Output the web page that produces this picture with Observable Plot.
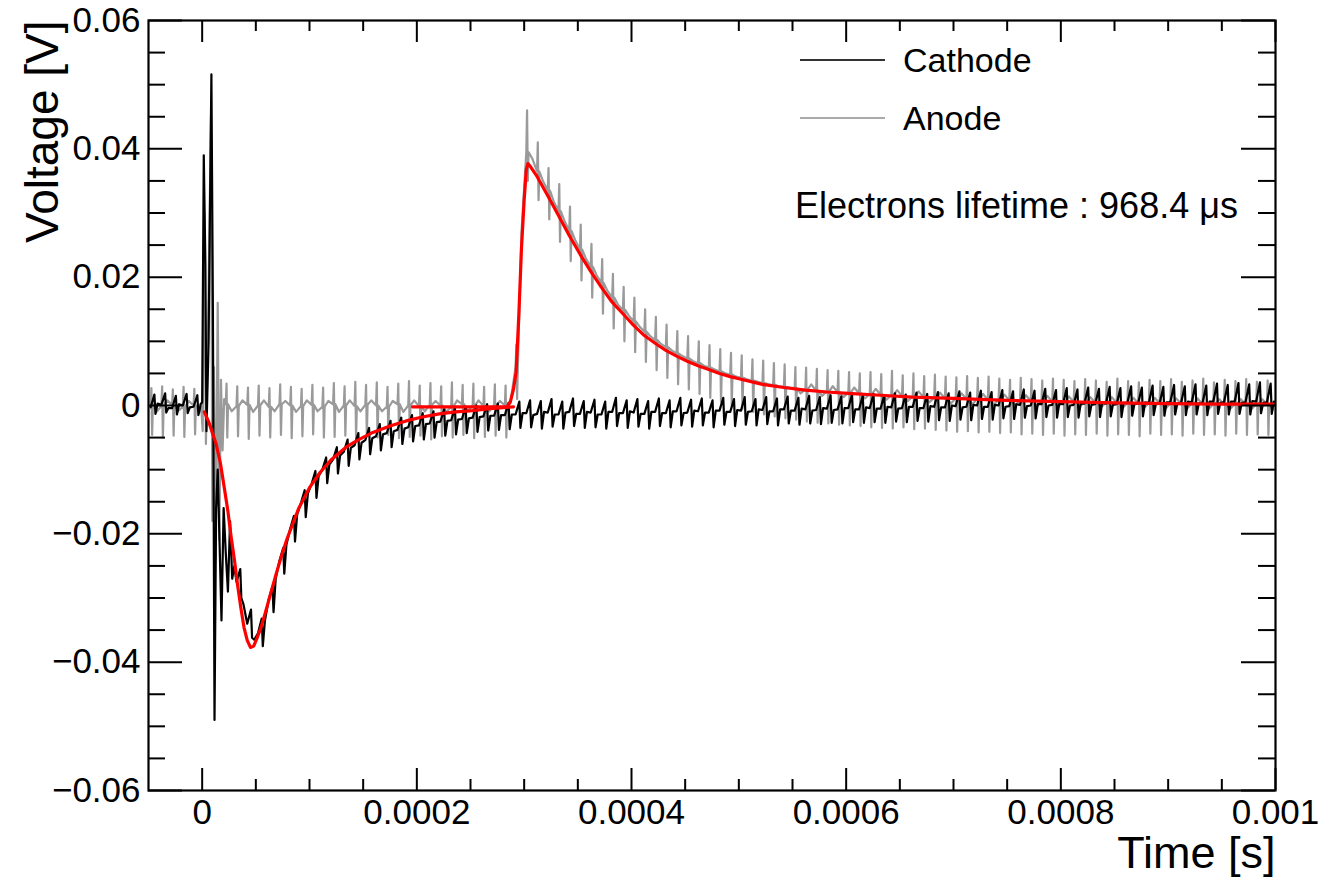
<!DOCTYPE html>
<html>
<head>
<meta charset="utf-8">
<script src="https://cdn.jsdelivr.net/npm/d3@7"></script>
<script src="https://cdn.jsdelivr.net/npm/@observablehq/plot@0.6"></script>
<style>
  html, body { margin: 0; padding: 0; background: white; }
  #chart { position: relative; width: 1334px; height: 878px; }
</style>
</head>
<body>
<div id="chart"></div>
<script>
// ---------- axis ticks & labels (time in microseconds, voltage in volts) ----------
const xMajor = [0, 200, 400, 600, 800, 1000];
const xTickLabels = ["0", "0.0002", "0.0004", "0.0006", "0.0008", "0.001"];
const xMinor = [50, 100, 150, 250, 300, 350, 450, 500, 550, 650, 700, 750, 850, 900, 950];
const yMajor = [-0.06, -0.04, -0.02, 0, 0.02, 0.04, 0.06];
const yTickLabels = ["\u22120.06", "\u22120.04", "\u22120.02", "0", "0.02", "0.04", "0.06"];
const yMinor = [-0.055, -0.05, -0.045, -0.035, -0.03, -0.025, -0.015, -0.01, -0.005,
                0.005, 0.01, 0.015, 0.025, 0.03, 0.035, 0.045, 0.05, 0.055];

// ---------- sampled traces: one entry per 10 us noise period (start times -48 ... 992 us) ----------
const periodStart = d3.range(-48, 1000, 10);

const anodeBase = [
  0.0002,-0.0001,0.0001,-0.0002,0.0000,null,null,0.0002,-0.0001,0.0001,
  0.0000,-0.0002,0.0002,0.0000,-0.0001,0.0001,-0.0002,0.0002,0.0000,-0.0001,
  0.0001,0.0000,-0.0002,0.0002,0.0000,-0.0001,0.0001,0.0000,-0.0002,0.0002,
  0.0000,-0.0001,0.0001,0.0000,0.0060,0.0395,0.0365,0.0335,0.0303,0.0272,
  0.0243,0.0216,0.0191,0.0168,0.0149,0.0131,0.0115,0.0102,0.0091,0.0081,
  0.0073,0.0066,0.0059,0.0053,0.0048,0.0043,0.0039,0.0035,0.0032,0.0029,
  0.0027,0.0025,0.0023,0.0022,0.0021,0.0020,0.0019,0.0018,0.0017,0.0016,
  0.0015,0.0014,0.0013,0.0012,0.0011,0.0011,0.0010,0.0010,0.0009,0.0009,
  0.0008,0.0008,0.0007,0.0007,0.0006,0.0006,0.0006,0.0005,0.0005,0.0005,
  0.0004,0.0004,0.0004,0.0004,0.0003,0.0003,0.0003,0.0003,0.0002,0.0002,
  0.0002,0.0002,0.0002,0.0002,0.0002];
const anodeMid = [
  -0.0010,0.0008,-0.0009,0.0007,-0.0010,null,null,-0.0009,0.0008,-0.0010,
  0.0008,-0.0009,0.0007,-0.0010,0.0008,-0.0009,0.0007,-0.0010,0.0008,-0.0009,
  0.0008,-0.0009,0.0007,-0.0010,0.0008,-0.0009,0.0007,-0.0010,0.0008,-0.0009,
  0.0008,-0.0009,0.0007,0.0008,0.0270,0.0385,0.0350,0.0318,0.0288,0.0258,
  0.0229,0.0203,0.0179,0.0157,0.0140,0.0123,0.0108,0.0096,0.0086,0.0077,
  0.0069,0.0062,0.0056,0.0050,0.0045,0.0041,0.0037,0.0033,0.0030,0.0028,
  0.0019,0.0033,0.0015,0.0030,0.0013,0.0028,0.0011,0.0026,0.0009,0.0024,
  0.0007,0.0022,0.0005,0.0020,0.0003,0.0019,0.0002,0.0018,0.0001,0.0017,
  0.0000,0.0016,-0.0001,0.0015,-0.0002,0.0014,-0.0002,0.0013,-0.0003,0.0013,
  -0.0004,0.0012,-0.0004,0.0012,-0.0005,0.0011,-0.0005,0.0011,-0.0006,0.0010,
  -0.0006,0.0010,-0.0006,0.0010,-0.0006];
const anodeHi = [
  0.0027,0.0030,0.0025,0.0029,0.0026,null,null,0.0034,0.0030,0.0028,
  0.0031,0.0027,0.0033,0.0029,0.0026,0.0032,0.0028,0.0035,0.0030,0.0037,
  0.0032,0.0036,0.0029,0.0034,0.0038,0.0031,0.0035,0.0030,0.0036,0.0032,
  0.0034,0.0029,0.0033,0.0031,0.0095,0.0460,0.0410,0.0370,0.0345,0.0310,
  0.0282,0.0252,0.0228,0.0205,0.0185,0.0168,0.0150,0.0138,0.0126,0.0116,
  0.0108,0.0100,0.0094,0.0088,0.0082,0.0078,0.0072,0.0070,0.0066,0.0064,
  0.0060,0.0059,0.0057,0.0055,0.0054,0.0052,0.0050,0.0052,0.0049,0.0054,
  0.0047,0.0050,0.0046,0.0048,0.0045,0.0044,0.0046,0.0043,0.0045,0.0042,
  0.0040,0.0043,0.0041,0.0039,0.0042,0.0040,0.0038,0.0041,0.0039,0.0037,
  0.0042,0.0038,0.0036,0.0040,0.0038,0.0041,0.0037,0.0039,0.0042,0.0036,
  0.0040,0.0038,0.0041,0.0037,0.0039];
const anodeLo = [
  -0.0046,-0.0050,-0.0047,-0.0049,-0.0045,null,null,-0.0050,-0.0048,-0.0052,
  -0.0047,-0.0050,-0.0046,-0.0051,-0.0048,-0.0045,-0.0050,-0.0049,-0.0047,-0.0052,
  -0.0048,-0.0050,-0.0046,-0.0051,-0.0049,-0.0047,-0.0053,-0.0048,-0.0050,-0.0046,
  -0.0051,-0.0049,-0.0047,-0.0050,0.0010,0.0350,0.0320,0.0290,0.0255,0.0225,
  0.0195,0.0168,0.0143,0.0120,0.0100,0.0083,0.0068,0.0055,0.0043,0.0033,
  0.0025,0.0018,0.0012,0.0005,0.0000,-0.0005,-0.0010,-0.0014,-0.0017,-0.0020,
  -0.0022,-0.0025,-0.0027,-0.0028,-0.0030,-0.0031,-0.0032,-0.0034,-0.0035,-0.0036,
  -0.0034,-0.0037,-0.0036,-0.0038,-0.0039,-0.0041,-0.0040,-0.0042,-0.0041,-0.0043,
  -0.0042,-0.0045,-0.0044,-0.0046,-0.0044,-0.0047,-0.0045,-0.0046,-0.0044,-0.0047,
  -0.0045,-0.0046,-0.0048,-0.0044,-0.0046,-0.0045,-0.0047,-0.0044,-0.0046,-0.0045,
  -0.0047,-0.0044,-0.0046,-0.0045,-0.0046];

const cathodeBase = [
  -0.0003,0.0001,-0.0004,0.0000,-0.0002,null,null,null,-0.0275,-0.0340,
  -0.0355,-0.0302,-0.0242,-0.0192,-0.0152,-0.0122,-0.0100,-0.0084,-0.0072,-0.0062,
  -0.0054,-0.0048,-0.0043,-0.0038,-0.0034,-0.0031,-0.0028,-0.0025,-0.0023,-0.0021,
  -0.0019,-0.0017,-0.0016,-0.0015,-0.0014,-0.0012,-0.0013,-0.0011,-0.0014,-0.0010,
  -0.0013,-0.0011,-0.0014,-0.0010,-0.0012,-0.0011,-0.0013,-0.0010,-0.0012,-0.0009,
  -0.0011,-0.0009,-0.0011,-0.0008,-0.0010,-0.0008,-0.0009,-0.0007,-0.0009,-0.0006,
  -0.0008,-0.0006,-0.0007,-0.0005,-0.0006,-0.0004,-0.0006,-0.0004,-0.0005,-0.0003,
  -0.0004,-0.0002,-0.0004,-0.0002,-0.0003,-0.0001,-0.0002,0.0000,-0.0002,0.0000,
  -0.0001,0.0001,0.0000,0.0002,0.0001,0.0002,0.0001,0.0003,0.0002,0.0003,
  0.0002,0.0004,0.0003,0.0004,0.0003,0.0005,0.0004,0.0005,0.0004,0.0006,
  0.0005,0.0006,0.0005,0.0006,0.0005];
const cathodeMid = [
  0.0003,-0.0004,0.0002,-0.0003,0.0002,null,null,null,-0.0310,-0.0365,
  -0.0335,-0.0270,-0.0217,-0.0170,-0.0137,-0.0110,-0.0092,-0.0078,-0.0066,-0.0058,
  -0.0051,-0.0045,-0.0040,-0.0036,-0.0032,-0.0029,-0.0026,-0.0024,-0.0022,-0.0020,
  -0.0018,-0.0016,-0.0015,-0.0014,-0.0012,-0.0015,-0.0010,-0.0014,-0.0011,-0.0013,
  -0.0010,-0.0014,-0.0010,-0.0012,-0.0009,-0.0013,-0.0010,-0.0012,-0.0009,-0.0012,
  -0.0008,-0.0011,-0.0008,-0.0010,-0.0007,-0.0010,-0.0006,-0.0009,-0.0006,-0.0008,
  -0.0005,-0.0008,-0.0004,-0.0007,-0.0004,-0.0006,-0.0003,-0.0005,-0.0002,-0.0005,
  -0.0002,-0.0004,-0.0001,-0.0003,0.0000,-0.0003,0.0001,-0.0002,0.0001,-0.0002,
  0.0002,-0.0001,0.0002,0.0000,0.0003,0.0000,0.0003,0.0001,0.0004,0.0001,
  0.0004,0.0002,0.0005,0.0002,0.0005,0.0003,0.0006,0.0003,0.0006,0.0004,
  0.0006,0.0004,0.0007,0.0004,0.0006];
const cathodeHi = [
  0.0017,0.0019,0.0015,0.0018,0.0016,null,null,null,-0.0255,-0.0318,
  -0.0332,-0.0282,-0.0222,-0.0172,-0.0132,-0.0102,-0.0081,-0.0065,-0.0053,-0.0043,
  -0.0035,-0.0029,-0.0024,-0.0019,-0.0015,-0.0012,-0.0009,-0.0006,-0.0004,-0.0002,
  0.0000,0.0002,0.0003,0.0004,0.0006,0.0008,0.0007,0.0010,0.0006,0.0011,
  0.0007,0.0009,0.0006,0.0012,0.0008,0.0010,0.0007,0.0011,0.0008,0.0012,
  0.0009,0.0011,0.0008,0.0012,0.0010,0.0013,0.0010,0.0013,0.0011,0.0014,
  0.0012,0.0015,0.0013,0.0016,0.0014,0.0017,0.0015,0.0018,0.0016,0.0019,
  0.0017,0.0020,0.0018,0.0021,0.0019,0.0022,0.0020,0.0023,0.0021,0.0024,
  0.0022,0.0025,0.0023,0.0026,0.0024,0.0027,0.0025,0.0028,0.0026,0.0029,
  0.0027,0.0030,0.0028,0.0031,0.0029,0.0032,0.0030,0.0033,0.0031,0.0034,
  0.0032,0.0035,0.0033,0.0036,0.0034];
const cathodeLo = [
  -0.0013,-0.0011,-0.0014,-0.0012,-0.0015,null,null,null,-0.0300,-0.0362,
  -0.0375,-0.0322,-0.0262,-0.0212,-0.0174,-0.0144,-0.0121,-0.0106,-0.0094,-0.0084,
  -0.0076,-0.0070,-0.0065,-0.0060,-0.0056,-0.0053,-0.0050,-0.0047,-0.0045,-0.0043,
  -0.0041,-0.0039,-0.0038,-0.0037,-0.0035,-0.0034,-0.0036,-0.0033,-0.0036,-0.0032,
  -0.0035,-0.0034,-0.0036,-0.0032,-0.0035,-0.0033,-0.0036,-0.0032,-0.0034,-0.0031,
  -0.0033,-0.0031,-0.0034,-0.0030,-0.0032,-0.0030,-0.0031,-0.0029,-0.0031,-0.0028,
  -0.0030,-0.0028,-0.0029,-0.0027,-0.0028,-0.0026,-0.0027,-0.0026,-0.0027,-0.0025,
  -0.0026,-0.0024,-0.0025,-0.0023,-0.0024,-0.0022,-0.0023,-0.0021,-0.0022,-0.0020,
  -0.0021,-0.0019,-0.0020,-0.0018,-0.0019,-0.0018,-0.0019,-0.0017,-0.0018,-0.0017,
  -0.0018,-0.0016,-0.0017,-0.0015,-0.0016,-0.0014,-0.0015,-0.0014,-0.0015,-0.0013,
  -0.0014,-0.0013,-0.0014,-0.0012,-0.0013];

// ---------- trigger burst (0 - 30 us) ----------
const cathodeBurstT = [-2, 0, 1.5, 3, 4, 6, 8.6, 10, 11.5, 13, 14.5, 16, 18, 20, 22, 24, 26, 28, 30];
const cathodeBurstV = [-0.0004, 0.0005, 0.039, 0.022, -0.004, 0.010, 0.0516, 0.015, -0.049, -0.016,
                       -0.010, -0.020, -0.0335, -0.016, -0.023, -0.029, -0.018, -0.027, -0.025];
const anodeBurstT = [-1, 0.5, 2, 3.5, 5.5, 8.2, 9.5, 11, 12.5, 14.5, 16, 17.5, 19, 20.5];
const anodeBurstV = [0.0001, -0.004, 0.030, -0.006, 0.012, 0.045, -0.018, 0.006, -0.024, 0.016,
                     -0.021, 0.004, -0.007, 0.001];

// ---------- fitted curves ----------
const cathodeFitT = [2, 6, 10, 13, 17, 20.5, 24, 27, 30, 33, 36, 39, 42, 45, 48, 51, 55, 59, 64, 69,
                     74, 79, 85, 90, 100, 110, 120, 134, 145, 159, 175, 190, 205, 221, 236, 252, 268, 283, 290];
const cathodeFitV = [-0.0010, -0.0025, -0.0045, -0.0060, -0.0090, -0.0127, -0.0165, -0.0205, -0.0240,
                     -0.0280, -0.0315, -0.0346, -0.0366, -0.0377, -0.0375, -0.0363, -0.0345, -0.0322,
                     -0.0292, -0.0262, -0.0234, -0.0208, -0.0182, -0.0160, -0.0128, -0.0104, -0.0085,
                     -0.0065, -0.0054, -0.0042, -0.0032, -0.0024, -0.0018, -0.0013, -0.0010, -0.0008,
                     -0.0005, -0.0003, -0.0002];
const anodeFitT = [196, 284, 287, 290, 292.5, 295, 297.5, 300, 302, 303.5, 306, 312, 322, 332, 342, 352,
                   362, 372, 382, 392, 402, 412, 422, 432, 442, 452, 462, 472, 482, 492, 502, 522, 542,
                   562, 582, 602, 632, 662, 700, 750, 800, 850, 900, 950, 1000];
const anodeFitV = [-0.0002, -0.0002, 0.0005, 0.0025, 0.0052, 0.0140, 0.0245, 0.0320, 0.0368, 0.0377,
                   0.0372, 0.0357, 0.0327, 0.0296, 0.0265, 0.0236, 0.0209, 0.0184, 0.0161, 0.0143,
                   0.0125, 0.0109, 0.0097, 0.0086, 0.0077, 0.0069, 0.0062, 0.0056, 0.0050, 0.0045,
                   0.0041, 0.0033, 0.0028, 0.0024, 0.0021, 0.0019, 0.0016, 0.0013, 0.0011, 0.0008,
                   0.0006, 0.0004, 0.0003, 0.0002, 0.0002];

// ---------- build tables ----------
const anodeRows = [];
periodStart.forEach((t0, k) => {
  if (anodeBase[k] == null) return;
  anodeRows.push({t: t0, v: anodeBase[k]}, {t: t0 + 0.7, v: anodeHi[k]},
                 {t: t0 + 1.4, v: anodeLo[k]}, {t: t0 + 2.1, v: anodeBase[k]},
                 {t: t0 + 5.5, v: anodeMid[k]});
});
anodeBurstT.forEach((t, i) => anodeRows.push({t, v: anodeBurstV[i]}));
anodeRows.sort((a, b) => a.t - b.t);

const cathodeRows = [];
periodStart.forEach((t0, k) => {
  if (cathodeBase[k] == null) return;
  cathodeRows.push({t: t0, v: cathodeBase[k]}, {t: t0 + 3.5, v: cathodeHi[k]},
                   {t: t0 + 4.5, v: cathodeLo[k]}, {t: t0 + 6.5, v: cathodeMid[k]});
});
cathodeBurstT.forEach((t, i) => cathodeRows.push({t, v: cathodeBurstV[i]}));
cathodeRows.sort((a, b) => a.t - b.t);

const cathodeFit = cathodeFitT.map((t, i) => ({t, v: cathodeFitV[i]}));
const anodeFit = anodeFitT.map((t, i) => ({t, v: anodeFitV[i]}));

// ---------- plot ----------
const W = 1334, H = 878, mL = 148, mR = 59, mT = 20, mB = 88;
const fw = W - mL - mR, fh = H - mT - mB;
const FONT = "'Liberation Sans', Arial, Helvetica, sans-serif";

const chart = Plot.plot({
  width: W, height: H,
  marginLeft: mL, marginRight: mR, marginTop: mT, marginBottom: mB,
  style: {fontFamily: FONT, background: "white", color: "black", overflow: "visible"},
  x: {domain: [-50, 1000], axis: null},
  y: {domain: [-0.06, 0.06], axis: null},
  marks: [
    Plot.line(anodeRows, {x: "t", y: "v", stroke: "#9a9a9a", strokeWidth: 2.2, clip: true}),
    Plot.line(cathodeRows, {x: "t", y: "v", stroke: "#000", strokeWidth: 2.2, clip: true}),
    Plot.line(cathodeFit, {x: "t", y: "v", stroke: "#ff0000", strokeWidth: 3.2, clip: true}),
    Plot.line(anodeFit, {x: "t", y: "v", stroke: "#ff0000", strokeWidth: 3.2, clip: true}),
    // ticks (inside, on all four sides)
    Plot.ruleX(xMajor, {insetTop: fh - 22, stroke: "#000", strokeWidth: 2}),
    Plot.ruleX(xMinor, {insetTop: fh - 11, stroke: "#000", strokeWidth: 2}),
    Plot.ruleX(xMajor, {insetBottom: fh - 22, stroke: "#000", strokeWidth: 2}),
    Plot.ruleX(xMinor, {insetBottom: fh - 11, stroke: "#000", strokeWidth: 2}),
    Plot.ruleY(yMajor, {insetRight: fw - 34, stroke: "#000", strokeWidth: 2}),
    Plot.ruleY(yMinor, {insetRight: fw - 17, stroke: "#000", strokeWidth: 2}),
    Plot.ruleY(yMajor, {insetLeft: fw - 34, stroke: "#000", strokeWidth: 2}),
    Plot.ruleY(yMinor, {insetLeft: fw - 17, stroke: "#000", strokeWidth: 2}),
    Plot.frame({stroke: "#000", strokeWidth: 2.2}),
    // tick labels
    Plot.text(xMajor, {x: d => d, text: (d, i) => xTickLabels[i], frameAnchor: "bottom",
                       dy: 22, lineAnchor: "middle", fontSize: 35, fill: "#000"}),
    Plot.text(yMajor, {y: d => d, text: (d, i) => yTickLabels[i], frameAnchor: "left",
                       dx: -8, textAnchor: "end", lineAnchor: "middle", fontSize: 35, fill: "#000"}),
    // axis titles
    Plot.text(["Time [s]"], {frameAnchor: "bottom-right", textAnchor: "end", lineAnchor: "middle",
                             dy: 63, fontSize: 45, fill: "#000"}),
    Plot.text(["Voltage [V]"], {frameAnchor: "top-left", textAnchor: "end", lineAnchor: "middle",
                                rotate: -90, dx: -105, fontSize: 46, fill: "#000"})
  ]
});
document.getElementById("chart").appendChild(chart);

// ---------- legend & annotation inside the frame ----------
const svg = d3.select(chart);
const leg = svg.append("g").attr("font-family", FONT).attr("font-size", 34)
  .attr("fill", "#000").attr("text-anchor", "start");
const legendItems = [
  {label: "Cathode", stroke: "#333", y: 60},
  {label: "Anode", stroke: "#aaa", y: 118}
];
legendItems.forEach(it => {
  leg.append("line").attr("x1", 800).attr("x2", 885).attr("y1", it.y).attr("y2", it.y)
     .attr("stroke", it.stroke).attr("stroke-width", 2);
  leg.append("text").attr("x", 903).attr("y", it.y).attr("dy", "0.35em")
     .attr("text-anchor", "start").text(it.label);
});
leg.append("text").attr("x", 795).attr("y", 205).attr("dy", "0.35em").attr("font-size", 36)
   .attr("text-anchor", "start").text("Electrons lifetime : 968.4 \u03bcs");
</script>
</body>
</html>
